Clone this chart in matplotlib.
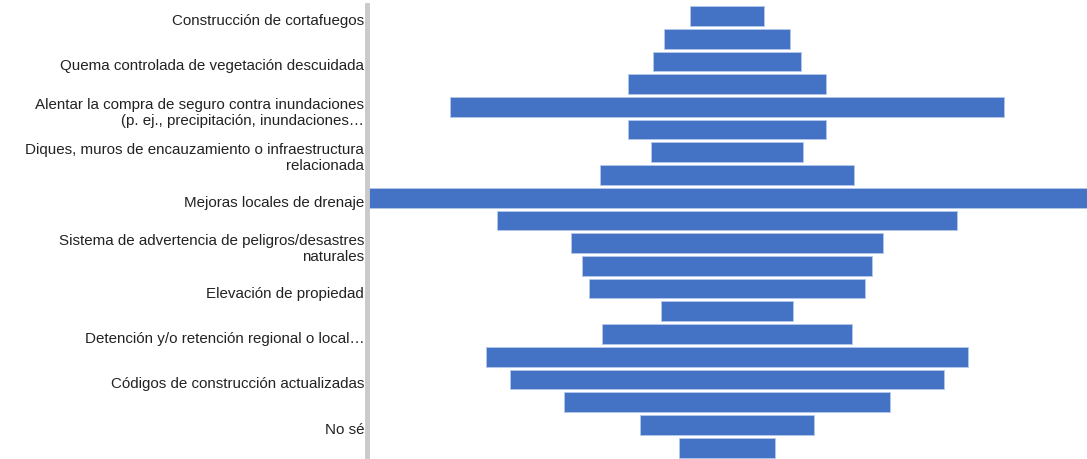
import matplotlib.pyplot as plt
from matplotlib.transforms import ScaledTranslation

plt.rcParams['font.family'] = ['Liberation Sans', 'DejaVu Sans']

# Bar values (relative widths), top to bottom
values = [5.2, 8.8, 10.3, 13.8, 38.5, 13.8, 10.6, 17.6, 50.0, 31.9,
          21.7, 20.2, 19.2, 9.2, 17.4, 33.5, 30.1, 22.7, 12.1, 6.7]

# Only every other category label is shown in the original
labels = [
    'Construcción de cortafuegos', '',
    'Quema controlada de vegetación descuidada', '',
    'Alentar la compra de seguro contra inundaciones\n(p. ej., precipitación, inundaciones…', '',
    'Diques, muros de encauzamiento o infraestructura\nrelacionada', '',
    'Mejoras locales de drenaje', '',
    'Sistema de advertencia de peligros/desastres\nnaturales', '',
    'Elevación de propiedad', '',
    'Detención y/o retención regional o local…', '',
    'Códigos de construcción actualizadas', '',
    'No sé', '',
]

barColor = '#4472C4'

fig = plt.figure(figsize=(10.87, 4.59), dpi=100)
ax = fig.add_axes([367 / 1087, 0.0, 1 - 367 / 1087, 0.99])

ypos = list(range(len(values)))
lefts = [-v / 2 for v in values]
ax.barh(ypos, values, left=lefts, height=0.87, color=barColor,
        edgecolor='#b4c8ea', linewidth=0.6)

vmax = max(values)
ax.set_xlim(-vmax / 2, vmax / 2)
ax.set_ylim(len(values) - 0.5, -0.5)

ax.set_yticks(ypos)
ax.set_yticklabels(labels, fontsize=10.9, color='#222222')
ax.tick_params(axis='y', length=0, pad=2)
# labels sit a little below the bar centres in the original
shift = ScaledTranslation(0, -2.5 / 72, fig.dpi_scale_trans)
for t in ax.get_yticklabels():
    t.set_transform(t.get_transform() + shift)
ax.set_xticks([])

for s in ['top', 'right', 'bottom']:
    ax.spines[s].set_visible(False)
ax.spines['left'].set_color('#cacaca')
ax.spines['left'].set_linewidth(3.5)

fig.savefig('out.png', dpi=100)
